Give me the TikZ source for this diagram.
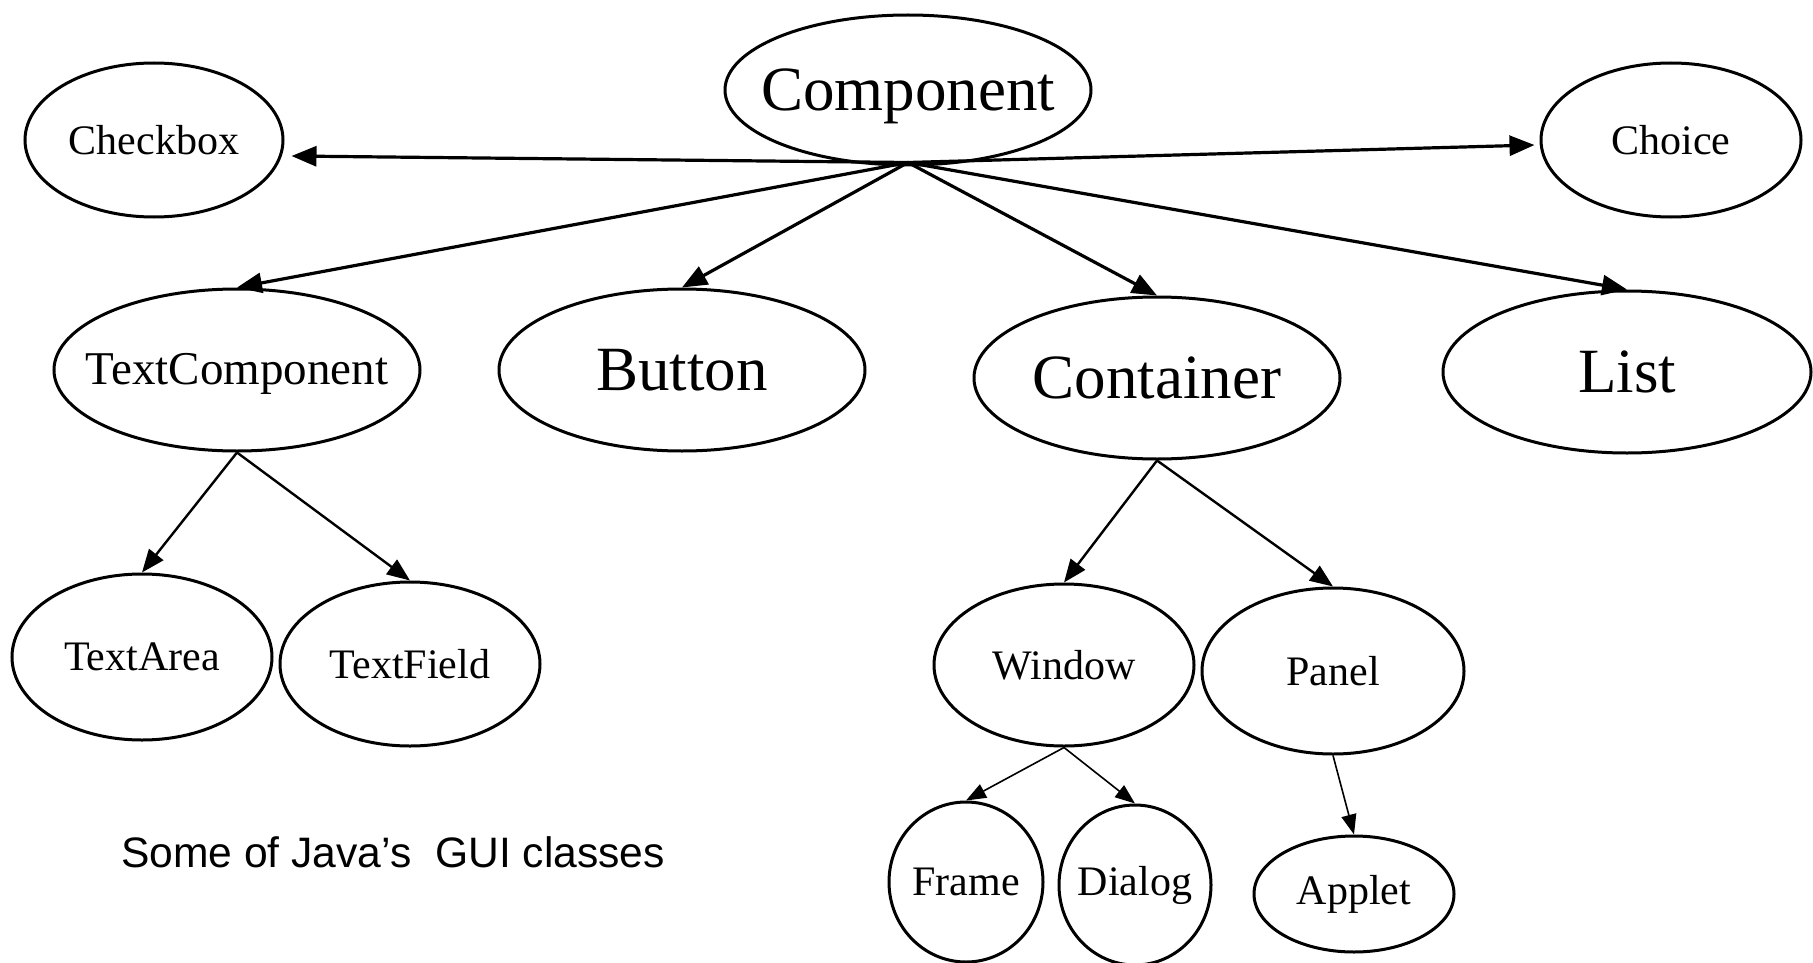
\documentclass[tikz,border=0pt]{standalone}
\usepackage{fontspec}
\setmainfont{Liberation Serif}
\newfontfamily\capfont{Liberation Sans}
\usetikzlibrary{shapes.geometric,arrows.meta}
\tikzset{
  cls/.style={ellipse, draw, line width=3pt, inner sep=0pt, font=\fontsize{42}{48}\selectfont},
  big/.style={font=\fontsize{63}{70}\selectfont},
  mid/.style={font=\fontsize{47}{54}\selectfont},
  toparrow/.style={line width=3.2pt, -{Triangle[length=25pt,width=20pt]}},
  midarrow/.style={line width=2.4pt, -{Triangle[length=23pt,width=18pt]}},
  lowarrow/.style={line width=1.6pt, -{Triangle[length=20pt,width=15pt]}}
}
\newcommand{\lbl}[2][0pt]{\raisebox{#1}[\height][\depth]{\makebox[0pt]{#2}}}
\begin{document}
\begin{tikzpicture}[x=1pt,y=-1pt]
\useasboundingbox (0,0) rectangle (1813,963);
\node[cls,big,minimum width=366pt,minimum height=150pt] (comp) at (908,90) {\lbl[-6pt]{Component}};
\node[cls,minimum width=258pt,minimum height=154pt] (checkbox) at (154,140) {\lbl{Checkbox}};
\node[cls,minimum width=260pt,minimum height=154pt] (choice) at (1671,140) {\lbl{Choice}};
\node[cls,mid,minimum width=366pt,minimum height=162pt] (tc) at (237,370) {\lbl[-4pt]{TextComponent}};
\node[cls,big,minimum width=366pt,minimum height=162pt] (button) at (682,370) {\lbl{Button}};
\node[cls,big,minimum width=366pt,minimum height=162pt] (container) at (1157,378) {\lbl{Container}};
\node[cls,big,minimum width=368pt,minimum height=162pt] (list) at (1627,372) {\lbl{List}};
\node[cls,minimum width=260pt,minimum height=166pt] (textarea) at (142,657) {\lbl{TextArea}};
\node[cls,minimum width=260pt,minimum height=164pt] (textfield) at (410,664) {\lbl{TextField}};
\node[cls,minimum width=260pt,minimum height=162pt] (window) at (1064,665) {\lbl{Window}};
\node[cls,minimum width=262pt,minimum height=166pt] (panel) at (1333,671) {\lbl{Panel}};
\node[cls,minimum width=154pt,minimum height=160pt] (frame) at (966,882) {\lbl{Frame}};
\node[cls,minimum width=152pt,minimum height=160pt] (dialog) at (1135,885) {\lbl{Dialog}};
\node[cls,minimum width=200pt,minimum height=116pt] (applet) at (1354,894) {\lbl{Applet}};
\node[font=\capfont\fontsize{42.6}{48}\selectfont, inner sep=0pt] (caption) at (393,852) {Some of Java’s\ \ GUI classes};

\coordinate (hub) at ([yshift=4pt]comp.south);
\coordinate (cbtip) at ([shift={(7,16)}]checkbox.east);
\coordinate (chtip) at ([shift={(-5,5)}]choice.west);
\draw[toparrow] (hub) -- (cbtip);
\draw[toparrow] (hub) -- (chtip);
\draw[toparrow] (hub) -- (tc.north);
\draw[toparrow] (hub) -- (button.north);
\draw[toparrow] (hub) -- (container.north);
\draw[toparrow] (hub) -- (list.north);
\draw[midarrow] (tc.south) -- (textarea.north);
\draw[midarrow] (tc.south) -- (textfield.north);
\draw[midarrow] (container.south) -- (window.north);
\draw[midarrow] (container.south) -- (panel.north);
\draw[lowarrow] (window.south) -- (frame.north);
\draw[lowarrow] (window.south) -- (dialog.north);
\draw[lowarrow] (panel.south) -- (applet.north);
\end{tikzpicture}
\end{document}
